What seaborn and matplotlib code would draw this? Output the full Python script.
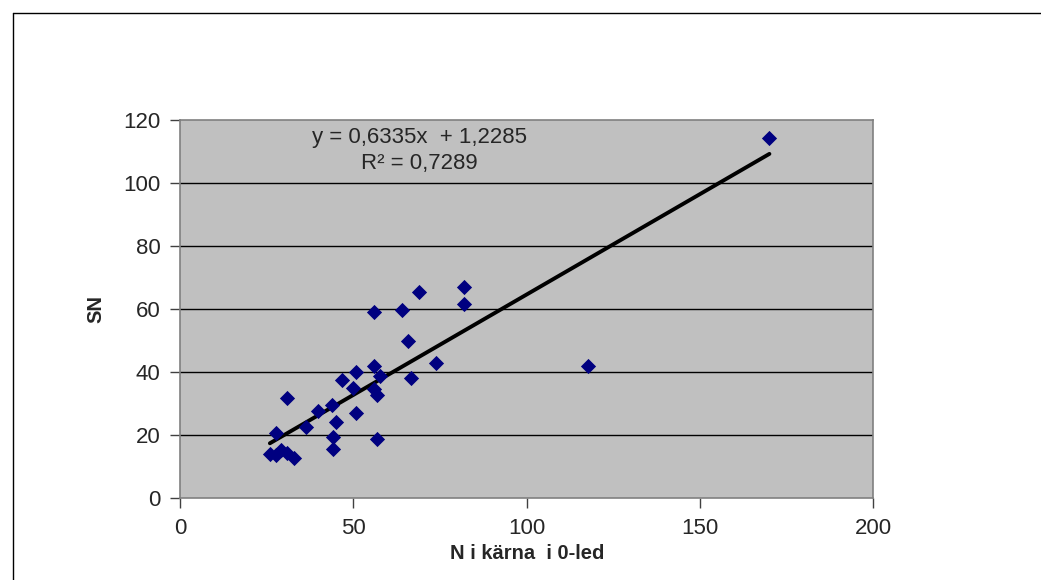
import numpy as np
import pandas as pd
import matplotlib
matplotlib.use("Agg")
import matplotlib.pyplot as plt
import seaborn as sns

# N i kärna i 0-led (x) och SN (y)
n_karna = [170.0, 81.8, 81.8, 68.9, 55.9, 64.0, 65.8, 73.8, 66.7, 55.9,
           50.7, 46.8, 57.6, 49.9, 55.9, 56.9, 43.8, 39.9, 50.7, 45.0,
           36.2, 30.8, 27.8, 44.0, 56.9, 44.0, 29.1, 30.7, 25.9, 27.6,
           32.9, 117.6]
sn = [114.3, 66.9, 61.6, 65.3, 59.0, 59.8, 49.9, 42.8, 38.0, 41.8,
      39.9, 37.5, 38.7, 34.9, 34.8, 32.6, 29.6, 27.8, 26.9, 24.3,
      22.6, 31.7, 20.8, 19.5, 18.8, 15.6, 15.2, 14.5, 13.9, 13.7,
      12.8, 42.0]
x_ticks = [0, 50, 100, 150, 200]
y_ticks = [0, 20, 40, 60, 80, 100, 120]
ekvation = "y = 0,6335x  + 1,2285"
r2_text = "R² = 0,7289"

df = pd.DataFrame({"x": n_karna, "y": sn})

sns.set_style("ticks", {"axes.facecolor": "#C0C0C0", "axes.edgecolor": "#808080"})
plt.rcParams["font.family"] = ["Liberation Sans", "DejaVu Sans"]

fig = plt.figure(figsize=(10.41, 5.8), dpi=100)
ax = fig.add_axes([0.173, 0.141, 0.666, 0.652])

# ram runt hela diagrammet
fig.add_artist(plt.Line2D([0.0125, 0.0125], [0.0, 0.978], color="black", lw=1, transform=fig.transFigure))
fig.add_artist(plt.Line2D([0.0125, 1.0], [0.978, 0.978], color="black", lw=1, transform=fig.transFigure))

for v in y_ticks[1:-1]:
    ax.axhline(v, color="black", lw=1, zorder=1)

sns.regplot(data=df, x="x", y="y", scatter=False, ci=None, truncate=True,
            line_kws={"color": "black", "lw": 2.8, "zorder": 2}, ax=ax)
sns.scatterplot(data=df, x="x", y="y", marker="D", s=60, color="#000080",
                edgecolor="#000080", linewidth=0, zorder=3, ax=ax)

ax.set_xlim(0, 200)
ax.set_ylim(0, 120)
ax.set_xticks(x_ticks)
ax.set_yticks(y_ticks)
ax.tick_params(labelsize=16, color="#404040", length=7, width=1, pad=7)
ax.set_xlabel("N i kärna  i 0-led", fontsize=14.5, fontweight="bold", labelpad=4)
ax.set_ylabel("SN", fontsize=14.5, fontweight="bold", labelpad=33 - 20)
for s in ax.spines.values():
    s.set_color("#808080")
    s.set_linewidth(1.2)

ax.text(69, 114.5, ekvation, ha="center", va="center", fontsize=16)
ax.text(69, 106.3, r2_text, ha="center", va="center", fontsize=16)

fig.savefig("out.png", dpi=100)
